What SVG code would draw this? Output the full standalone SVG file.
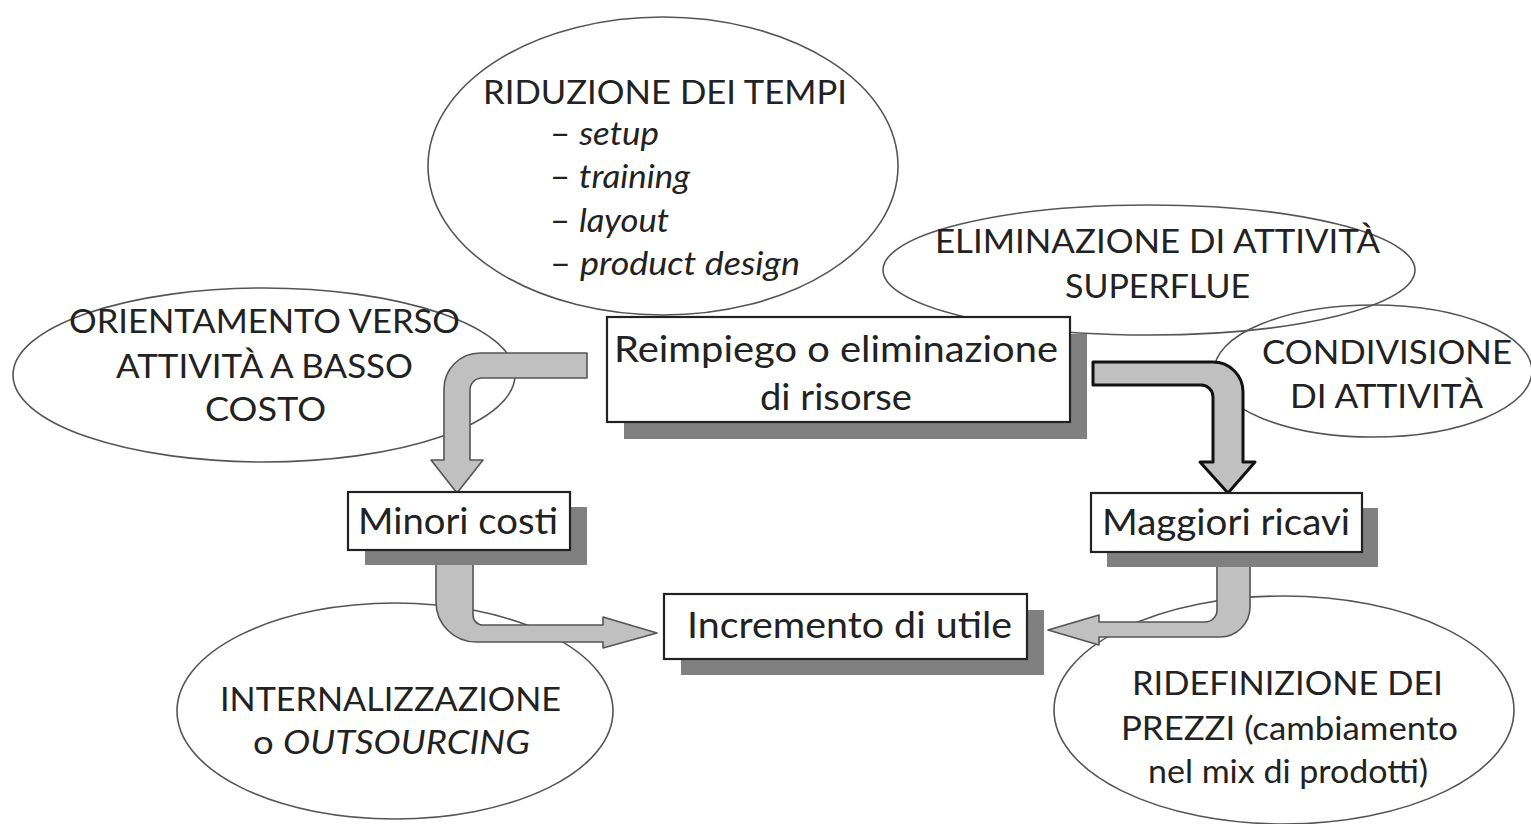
<svg xmlns="http://www.w3.org/2000/svg" width="1531" height="824" viewBox="0 0 1531 824">
<style>
  .ell { fill: none; stroke: #555; stroke-width: 1.6; }
  .box { fill: #fff; stroke: #222; stroke-width: 2.2; }
  .shd { fill: #808080; }
  .arr { fill: #c0c0c0; stroke: #555; stroke-width: 1.6; stroke-linejoin: round; }
  .arrd { fill: #c0c0c0; stroke: #111; stroke-width: 3; stroke-linejoin: round; }
  text { font-family: "Lato", "Open Sans", "DejaVu Sans", sans-serif; fill: #222; }
  .cap { font-size: 33px; }
  .lbl { font-size: 37px; }
  .it { font-style: italic; }
</style>
<rect width="1531" height="824" fill="#fff"/>

<g id="ell-riduzione">
  <ellipse class="ell" cx="663" cy="166" rx="235" ry="149"/>
  <text class="cap" x="483" y="104" textLength="364" lengthAdjust="spacingAndGlyphs">RIDUZIONE DEI TEMPI</text>
  <text class="cap" x="550" y="145" textLength="109" lengthAdjust="spacingAndGlyphs">– <tspan class="it">setup</tspan></text>
  <text class="cap" x="550" y="188" textLength="140" lengthAdjust="spacingAndGlyphs">– <tspan class="it">training</tspan></text>
  <text class="cap" x="550" y="232" textLength="119" lengthAdjust="spacingAndGlyphs">– <tspan class="it">layout</tspan></text>
  <text class="cap" x="550" y="275" textLength="250" lengthAdjust="spacingAndGlyphs">– <tspan class="it">product design</tspan></text>
</g>

<g id="ell-orientamento">
  <ellipse class="ell" cx="264" cy="375" rx="251" ry="87"/>
  <text class="cap" x="69" y="333" textLength="391" lengthAdjust="spacingAndGlyphs">ORIENTAMENTO VERSO</text>
  <text class="cap" x="116" y="378" textLength="297" lengthAdjust="spacingAndGlyphs">ATTIVITÀ A BASSO</text>
  <text class="cap" x="205" y="421" textLength="121" lengthAdjust="spacingAndGlyphs">COSTO</text>
</g>

<g id="ell-eliminazione">
  <ellipse class="ell" cx="1149" cy="270" rx="266" ry="65"/>
  <text class="cap" x="935" y="253" textLength="445" lengthAdjust="spacingAndGlyphs">ELIMINAZIONE DI ATTIVITÀ</text>
  <text class="cap" x="1065" y="298" textLength="185" lengthAdjust="spacingAndGlyphs">SUPERFLUE</text>
</g>

<g id="ell-condivisione">
  <ellipse class="ell" cx="1373" cy="371" rx="159" ry="66"/>
  <text class="cap" x="1262" y="364" textLength="250" lengthAdjust="spacingAndGlyphs">CONDIVISIONE</text>
  <text class="cap" x="1290" y="408" textLength="193" lengthAdjust="spacingAndGlyphs">DI ATTIVITÀ</text>
</g>

<g id="ell-internalizzazione">
  <ellipse class="ell" cx="395" cy="711" rx="218" ry="108"/>
  <text class="cap" x="220" y="711" textLength="341" lengthAdjust="spacingAndGlyphs">INTERNALIZZAZIONE</text>
  <text class="cap" x="253" y="754" textLength="277" lengthAdjust="spacingAndGlyphs">o <tspan class="it">OUTSOURCING</tspan></text>
</g>

<g id="ell-ridefinizione">
  <ellipse class="ell" cx="1284" cy="710" rx="230" ry="114"/>
  <text class="cap" x="1132" y="695" textLength="311" lengthAdjust="spacingAndGlyphs">RIDEFINIZIONE DEI</text>
  <text class="cap" x="1121" y="740" textLength="337" lengthAdjust="spacingAndGlyphs">PREZZI (cambiamento</text>
  <text class="cap" x="1148" y="783" textLength="280" lengthAdjust="spacingAndGlyphs">nel mix di prodotti)</text>
</g>

<g id="connectors">
  <path class="arr" d="M587,353 L480,353 A36,36 0 0 0 444,389 L444,460 L431,460 L457,493 L483,460 L470,460 L470,390 A12,12 0 0 1 482,378 L587,378 Z"/>
  <path class="arrd" d="M1093,362 L1213,362 A30,30 0 0 1 1243,392 L1243,462 L1255,462 L1228,493 L1200,462 L1213,462 L1213,397 A12,12 0 0 0 1201,385 L1093,385 Z"/>
  <path class="arr" d="M436,560 L436,602 A40,40 0 0 0 476,642 L603,642 L603,648 L657,633 L603,617 L603,625 L483,625 A10,10 0 0 1 473,615 L473,560 Z"/>
  <path class="arr" d="M1250,560 L1250,607 A30,30 0 0 1 1220,637 L1099,637 L1099,645 L1048,630 L1099,615 L1099,622 L1205,622 A12,12 0 0 0 1217,610 L1217,560 Z"/>
</g>

<g id="box-reimpiego">
  <rect class="shd" x="624" y="334" width="463" height="105"/>
  <rect class="box" x="607" y="317" width="463" height="105"/>
  <text class="lbl" x="614" y="362" textLength="444" lengthAdjust="spacingAndGlyphs">Reimpiego o eliminazione</text>
  <text class="lbl" x="760" y="410" textLength="152" lengthAdjust="spacingAndGlyphs">di risorse</text>
</g>

<g id="box-minori">
  <rect class="shd" x="365" y="507" width="222" height="58"/>
  <rect class="box" x="348" y="492" width="222" height="58"/>
  <text class="lbl" x="358" y="534" textLength="200" lengthAdjust="spacingAndGlyphs">Minori costi</text>
</g>

<g id="box-maggiori">
  <rect class="shd" x="1107" y="508" width="271" height="59"/>
  <rect class="box" x="1091" y="493" width="271" height="59"/>
  <text class="lbl" x="1102" y="535" textLength="248" lengthAdjust="spacingAndGlyphs">Maggiori ricavi</text>
</g>

<g id="box-incremento">
  <rect class="shd" x="681" y="610" width="363" height="65"/>
  <rect class="box" x="664" y="594" width="363" height="65"/>
  <text class="lbl" x="687" y="638" textLength="325" lengthAdjust="spacingAndGlyphs">Incremento di utile</text>
</g>
</svg>
